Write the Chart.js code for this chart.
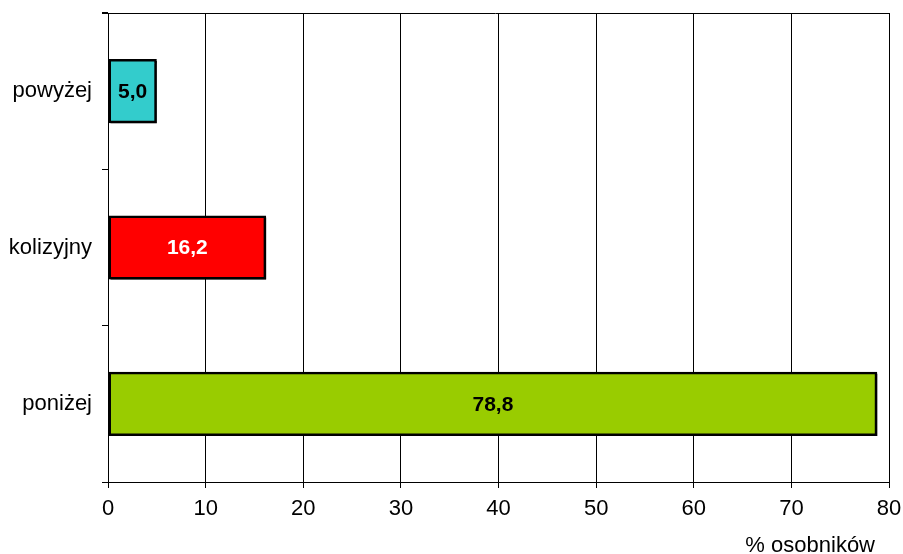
<!DOCTYPE html>
<html>
<head>
<meta charset="utf-8">
<script src="https://cdn.jsdelivr.net/npm/chart.js@4"></script>
<style>
  html, body { margin: 0; padding: 0; background: #fff; }
  #wrap { width: 903px; height: 554px; }
</style>
</head>
<body>
<div id="wrap"><canvas id="myChart"></canvas></div>
<script>
// categories and values
const labels = ['powyżej', 'kolizyjny', 'poniżej'];
const values = [5.0, 16.2, 78.8];
const barColors = ['#33CCCC', '#FF0000', '#99CC00'];
const labelColors = ['#000000', '#FFFFFF', '#000000'];
const xTicks = [0, 10, 20, 30, 40, 50, 60, 70, 80];
const xTitle = '% osobników';

const FONT = '"Liberation Sans", Arial, sans-serif';

// small drop shadow under the bars
const barShadow = {
  id: 'barShadow',
  beforeDatasetDraw(chart) {
    const ctx = chart.ctx;
    ctx.save();
    ctx.shadowColor = '#000';
    ctx.shadowOffsetX = 2;
    ctx.shadowOffsetY = 2;
    ctx.shadowBlur = 0;
  },
  afterDatasetDraw(chart) {
    chart.ctx.restore();
  }
};

// value labels inside bars
const barLabels = {
  id: 'barLabels',
  afterDatasetsDraw(chart) {
    const ctx = chart.ctx;
    const meta = chart.getDatasetMeta(0);
    ctx.save();
    ctx.font = 'bold 21px ' + FONT;
    ctx.textAlign = 'center';
    ctx.textBaseline = 'middle';
    meta.data.forEach(function (bar, i) {
      ctx.fillStyle = labelColors[i];
      ctx.fillText(values[i].toFixed(1).replace('.', ','), (bar.x + bar.base) / 2, bar.y + 1);
    });
    ctx.restore();
  }
};

// top frame line + axis title
const frame = {
  id: 'frame',
  afterDraw(chart) {
    const a = chart.chartArea;
    const ctx = chart.ctx;
    ctx.save();
    ctx.strokeStyle = '#000';
    ctx.lineWidth = 1;
    ctx.beginPath();
    ctx.moveTo(a.left - 6, a.top + 0.5);
    ctx.lineTo(a.right, a.top + 0.5);
    ctx.stroke();
    ctx.fillStyle = '#000';
    ctx.font = '22px ' + FONT;
    ctx.textAlign = 'right';
    ctx.textBaseline = 'middle';
    ctx.fillText(xTitle, a.right - 14, chart.height - 8);
    ctx.restore();
  }
};

const data = {
  labels: labels,
  datasets: [{
    data: values,
    backgroundColor: barColors,
    borderColor: '#000',
    borderWidth: 2.5,
    borderSkipped: false,
    barPercentage: 0.41,
    categoryPercentage: 1
  }]
};

const config = {
  type: 'bar',
  data: data,
  options: {
    indexAxis: 'y',
    responsive: true,
    maintainAspectRatio: false,
    animation: false,
    layout: { padding: { top: 13, right: 14, bottom: 0, left: 0 } },
    plugins: {
      legend: { display: false },
      tooltip: { enabled: false }
    },
    scales: {
      x: {
        min: 0,
        max: 80,
        afterBuildTicks(scale) {
          scale.ticks = xTicks.map(v => ({ value: v }));
        },
        afterFit(scale) {
          scale.height = 72;
          scale.paddingLeft = 0;
          scale.paddingRight = 0;
        },
        grid: { color: '#000', lineWidth: 1, tickLength: 6 },
        border: { color: '#000', width: 1 },
        ticks: { color: '#000', font: { family: FONT, size: 22 }, padding: 8, maxRotation: 0 }
      },
      y: {
        afterFit(scale) {
          scale.width = 108;
          scale.paddingTop = 0;
          scale.paddingBottom = 0;
        },
        grid: { drawOnChartArea: false, color: '#000', tickLength: 6, offset: true },
        border: { color: '#000', width: 1 },
        ticks: { color: '#000', font: { family: FONT, size: 22 }, padding: 10 }
      }
    }
  },
  plugins: [barShadow, barLabels, frame]
};

const myChart = new Chart(document.getElementById('myChart'), config);
</script>
</body>
</html>
